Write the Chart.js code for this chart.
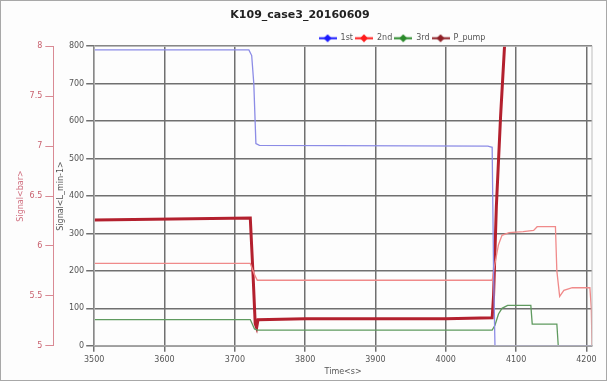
<!DOCTYPE html>
<html>
<head>
<meta charset="utf-8">
<script src="https://cdn.jsdelivr.net/npm/chart.js@4.4.1/dist/chart.umd.min.js"></script>
<style>
  html, body { margin: 0; padding: 0; background: #fff; }
  #wrap { width: 607px; height: 381px; box-sizing: border-box; border: 1px solid #a8a8a8; background: #fdfdfd; }
</style>
</head>
<body>
<div id="wrap"><canvas id="chart" width="605" height="379"></canvas></div>
<script>
// time ticks on the x axis
const timeTicks = [3500, 3600, 3700, 3800, 3900, 4000, 4100, 4200];

// 1st (L/min)
const time1st = [3500, 3720, 3724, 3727, 3730, 3735, 4060, 4066, 4068, 4070, 4208];
const flow1st = [790, 790, 775, 700, 540, 535, 533, 530, 200, 0, 0];

// 2nd (L/min)
const time2nd = [3500, 3722, 3728, 3732, 4066, 4070, 4075, 4080, 4090, 4110, 4125, 4130, 4156, 4158, 4162, 4168, 4180, 4205, 4207, 4208];
const flow2nd = [220, 220, 190, 175, 175, 220, 270, 295, 302, 305, 308, 318, 318, 200, 132, 148, 155, 155, 100, 0];

// 3rd (L/min)
const time3rd = [3500, 3722, 3728, 3732, 4066, 4070, 4075, 4080, 4088, 4121, 4123, 4158, 4160];
const flow3rd = [70, 70, 45, 42, 42, 55, 85, 100, 108, 108, 58, 58, 0];

// P_pump (bar)
const timePump = [3500, 3722, 3726, 3729, 3731, 3733, 3800, 3900, 4000, 4066, 4068, 4072, 4078, 4084, 4090];
const presPump = [6.26, 6.28, 5.7, 5.22, 5.18, 5.26, 5.27, 5.27, 5.27, 5.28, 5.5, 6.4, 7.3, 8.05, 8.8];

const FONT = "'DejaVu Sans', sans-serif";

function zip(xs, ys) {
  return xs.map((x, i) => ({ x: x, y: ys[i] }));
}

// small legend marker: a line with a diamond in the middle
function legendMarker(color) {
  const c = document.createElement("canvas");
  c.width = 18;
  c.height = 9;
  const g = c.getContext("2d");
  g.strokeStyle = color;
  g.lineWidth = 2;
  g.beginPath();
  g.moveTo(0, 4.5);
  g.lineTo(18, 4.5);
  g.stroke();
  g.fillStyle = color;
  g.beginPath();
  g.moveTo(9, 0.5);
  g.lineTo(13, 4.5);
  g.lineTo(9, 8.5);
  g.lineTo(5, 4.5);
  g.closePath();
  g.fill();
  return c;
}

// legend sits right of centre and a bit tighter than the default box
const legendTweak = {
  id: "legendTweak",
  beforeUpdate(chart) {
    const lg = chart.legend;
    if (lg && !lg.trimmed) {
      const fit = lg.fit;
      lg.fit = function () {
        fit.call(this);
        this.height -= 6;
      };
      lg.trimmed = true;
    }
  },
  afterUpdate(chart) {
    chart.legend.left += 102;
    chart.legend.right += 102;
  },
};

const frame = {
  id: "frame",
  afterDraw(chart) {
    const a = chart.chartArea;
    const ctx = chart.ctx;
    ctx.save();
    ctx.strokeStyle = "#bdbdbd";
    ctx.lineWidth = 1;
    ctx.strokeRect(a.left, a.top, a.right - a.left, a.bottom - a.top);
    ctx.restore();
  },
};

const plain = (v) => String(v);

new Chart(document.getElementById("chart"), {
  type: "line",
  data: {
    datasets: [
      {
        label: "1st",
        data: zip(time1st, flow1st),
        borderColor: "#8c8ce6",
        borderWidth: 1.3,
        pointRadius: 0,
        pointStyle: legendMarker("#1a1aff"),
        yAxisID: "y",
      },
      {
        label: "2nd",
        data: zip(time2nd, flow2nd),
        borderColor: "#f08a8a",
        borderWidth: 1.3,
        pointRadius: 0,
        pointStyle: legendMarker("#ff1a1a"),
        yAxisID: "y",
      },
      {
        label: "3rd",
        data: zip(time3rd, flow3rd),
        borderColor: "#5f9a5f",
        borderWidth: 1.3,
        pointRadius: 0,
        pointStyle: legendMarker("#2a8a2a"),
        yAxisID: "y",
      },
      {
        label: "P_pump",
        data: zip(timePump, presPump),
        borderColor: "#b3202e",
        borderWidth: 3,
        pointRadius: 0,
        pointStyle: legendMarker("#8e1f26"),
        yAxisID: "y1",
      },
    ],
  },
  options: {
    responsive: false,
    animation: false,
    layout: { padding: { left: 7, right: 14, top: 0, bottom: 1 } },
    plugins: {
      title: {
        display: true,
        text: "K109_case3_20160609",
        color: "#222",
        font: { family: FONT, size: 11, weight: "bold" },
        padding: { top: 8, bottom: 10 },
      },
      legend: {
        display: true,
        position: "top",
        align: "center",
        labels: {
          usePointStyle: true,
          pointStyleWidth: 18,
          boxHeight: 9,
          padding: 2,
          color: "#555",
          font: { family: FONT, size: 8 },
        },
      },
      tooltip: { enabled: false },
    },
    scales: {
      x: {
        type: "linear",
        min: 3500,
        max: 4208,
        afterBuildTicks: (scale) => {
          scale.ticks = timeTicks.map((v) => ({ value: v }));
        },
        grid: { color: "#707070", lineWidth: 1.5, tickLength: 6 },
        border: { color: "#707070", width: 1.5 },
        ticks: { color: "#555", font: { family: FONT, size: 8 }, maxRotation: 0, padding: 3, callback: plain },
        title: {
          display: true,
          text: "Time<s>",
          color: "#555",
          font: { family: FONT, size: 8 },
          padding: { top: 0, bottom: 2 },
        },
      },
      y: {
        position: "left",
        min: 0,
        max: 800,
        ticks: { stepSize: 100, color: "#555", font: { family: FONT, size: 8 }, padding: 2, callback: plain },
        grid: { color: "#707070", lineWidth: 1.5, tickLength: 8 },
        border: { color: "#707070", width: 1.5 },
        title: {
          display: true,
          text: "Signal<L_min-1>",
          color: "#555",
          font: { family: FONT, size: 8 },
          padding: { top: 3, bottom: 1 },
        },
      },
      y1: {
        position: "left",
        min: 5,
        max: 8,
        ticks: { stepSize: 0.5, color: "#c8606e", font: { family: FONT, size: 8 }, padding: 3, callback: plain },
        grid: { drawOnChartArea: false, color: "#d98a94", tickLength: 8 },
        border: { color: "#d98a94", width: 1 },
        title: {
          display: true,
          text: "Signal<bar>",
          color: "#d07080",
          font: { family: FONT, size: 8 },
          padding: { top: 8, bottom: 1 },
        },
      },
    },
  },
  plugins: [legendTweak, frame],
});
</script>
</body>
</html>
